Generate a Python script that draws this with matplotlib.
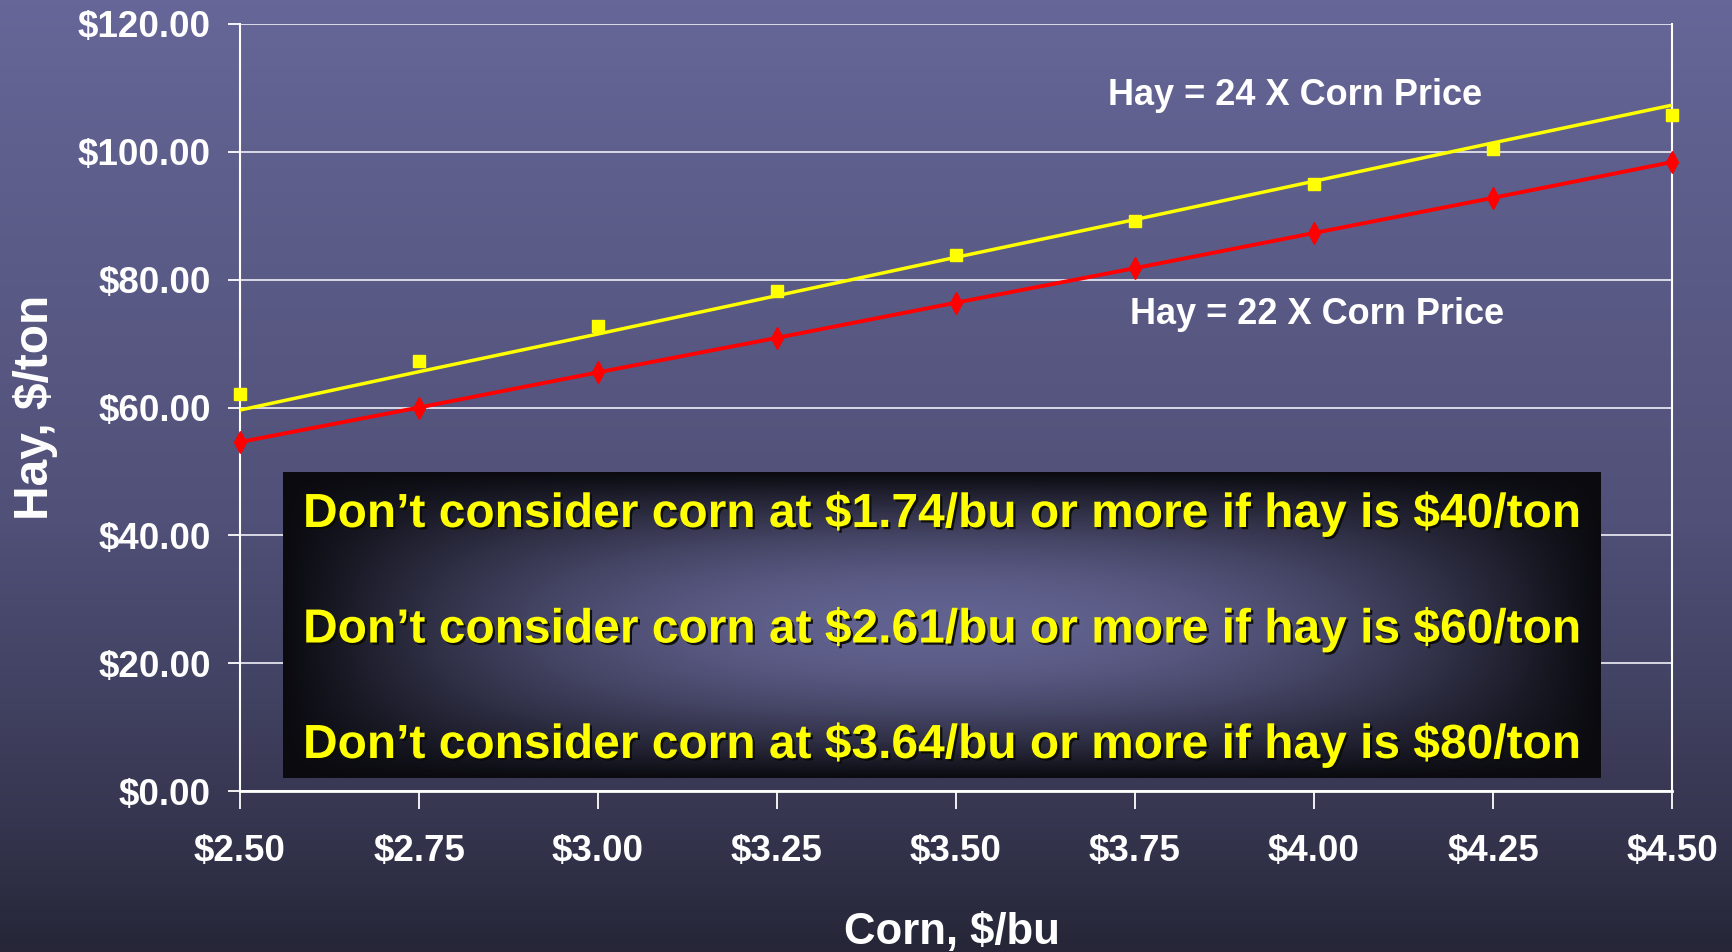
import numpy as np
import matplotlib
matplotlib.use("Agg")
import matplotlib.pyplot as plt
import matplotlib.ticker as ticker
import matplotlib.patheffects as pe
from matplotlib.colors import LinearSegmentedColormap

# data
corn_price = [2.50, 2.75, 3.00, 3.25, 3.50, 3.75, 4.00, 4.25, 4.50]
hay_22x = [54.6, 60.0, 65.5, 70.9, 76.4, 81.8, 87.3, 92.8, 98.4]
hay_24x_line = [59.6, 65.6, 71.5, 77.5, 83.5, 89.4, 95.4, 101.4, 107.3]
hay_24x_points = [62.1, 67.2, 72.8, 78.3, 83.8, 89.2, 94.9, 100.4, 105.8]
y_ticks = [0, 20, 40, 60, 80, 100, 120]
line_labels = ["Hay = 24 X Corn Price", "Hay = 22 X Corn Price"]
notes = [
    "Don\u2019t consider corn at $1.74/bu or more if hay is $40/ton",
    "Don\u2019t consider corn at $2.61/bu or more if hay is $60/ton",
    "Don\u2019t consider corn at $3.64/bu or more if hay is $80/ton",
]

plt.rcParams['text.parse_math'] = False
plt.rcParams['font.family'] = ['Liberation Sans', 'DejaVu Sans']
plt.rcParams['font.weight'] = 'bold'
plt.rcParams['axes.labelweight'] = 'bold'

W, H = 1732, 952
fig = plt.figure(figsize=(W / 100, H / 100), dpi=100)

# background gradient
bg = fig.add_axes([0, 0, 1, 1], zorder=-10)
bg_cmap = LinearSegmentedColormap.from_list("bg", [
    (0.0, (102 / 255, 102 / 255, 152 / 255)),
    (0.3, (90 / 255, 90 / 255, 134 / 255)),
    (0.55, (80 / 255, 80 / 255, 120 / 255)),
    (0.7, (68 / 255, 68 / 255, 102 / 255)),
    (0.85, (55 / 255, 55 / 255, 82 / 255)),
    (1.0, (38 / 255, 38 / 255, 56 / 255)),
])
bg.imshow(np.linspace(0, 1, 256).reshape(-1, 1), aspect='auto', cmap=bg_cmap,
          extent=[0, 1, 0, 1])
bg.set_axis_off()

ax = fig.add_axes([240 / W, 1 - 791 / H, 1432 / W, 767 / H])
ax.patch.set_alpha(0)

ax.plot(corn_price, hay_24x_line, color='#FFFF00', lw=2.5, zorder=3)
ax.plot(corn_price, hay_24x_points, ls='none', marker='s', ms=8.5,
        color='#FFFF00', zorder=4, clip_on=False)
ax.plot(corn_price, hay_22x, color='#FF0000', lw=2.8, marker='d', ms=11,
        zorder=4, clip_on=False)

ax.set_xlim(2.5, 4.5)
ax.set_ylim(0, 120)
ax.set_yticks(y_ticks)
ax.set_xticks(corn_price)
ax.yaxis.set_major_formatter(ticker.FormatStrFormatter('$%.2f'))
ax.xaxis.set_major_formatter(ticker.FormatStrFormatter('$%.2f'))
ax.grid(axis='y', color='#e4e4ee', lw=1.3)
ax.set_axisbelow(True)
for side in ['left', 'bottom', 'right']:
    ax.spines[side].set_color('white')
    ax.spines[side].set_linewidth(1.5)
ax.spines['bottom'].set_linewidth(2)
ax.spines['top'].set_visible(False)
ax.tick_params(axis='both', colors='white', width=1.3, labelsize=26.5)
ax.tick_params(axis='x', length=13, pad=18)
ax.tick_params(axis='y', length=9, pad=12)

ax.set_xlabel('Corn, $/bu', fontsize=31.5, fontweight='bold', color='white')
ax.xaxis.set_label_coords(0.497, -0.185)
ax.xaxis.label.set_verticalalignment('center')
ax.set_ylabel('Hay, $/ton', fontsize=34.5, fontweight='bold', color='white')
ax.yaxis.set_label_coords(-0.1425, 0.5)
ax.yaxis.label.set_verticalalignment('center')

fig.text(1295 / W, 1 - 105 / H, line_labels[0], ha='center', va='baseline',
         color='white', fontsize=26)
fig.text(1317 / W, 1 - 324 / H, line_labels[1], ha='center', va='baseline',
         color='white', fontsize=26)

# note box with dark gradient
box = fig.add_axes([283 / W, 1 - 778 / H, 1317 / W, 306 / H], zorder=5)
xs = np.linspace(-1, 1, 600)
ys = np.linspace(-1, 1, 200)
hx = np.clip(1 - np.abs(xs) ** 2.2, 0, 1)
hy = np.clip(1 - np.abs(ys) ** 2.0, 0, 1)
glow = np.outer(hy, hx)
box_cmap = LinearSegmentedColormap.from_list("box", [
    (0.0, (10 / 255, 10 / 255, 15 / 255)),
    (1.0, (98 / 255, 98 / 255, 144 / 255)),
])
box.imshow(glow, aspect='auto', cmap=box_cmap, extent=[0, 1, 0, 1],
           vmin=0, vmax=1)
box.set_axis_off()

shadow = [pe.withSimplePatchShadow(offset=(1.6, -1.6),
                                   shadow_rgbFace='#0c0c06', alpha=0.95)]
for note, base in zip(notes, [527, 642.5, 758]):
    fig.text(941.5 / W, 1 - base / H, note, ha='center', va='baseline',
             color='#FFFF00', fontsize=34.5, zorder=6, path_effects=shadow)

fig.savefig('out.png', dpi=100)
